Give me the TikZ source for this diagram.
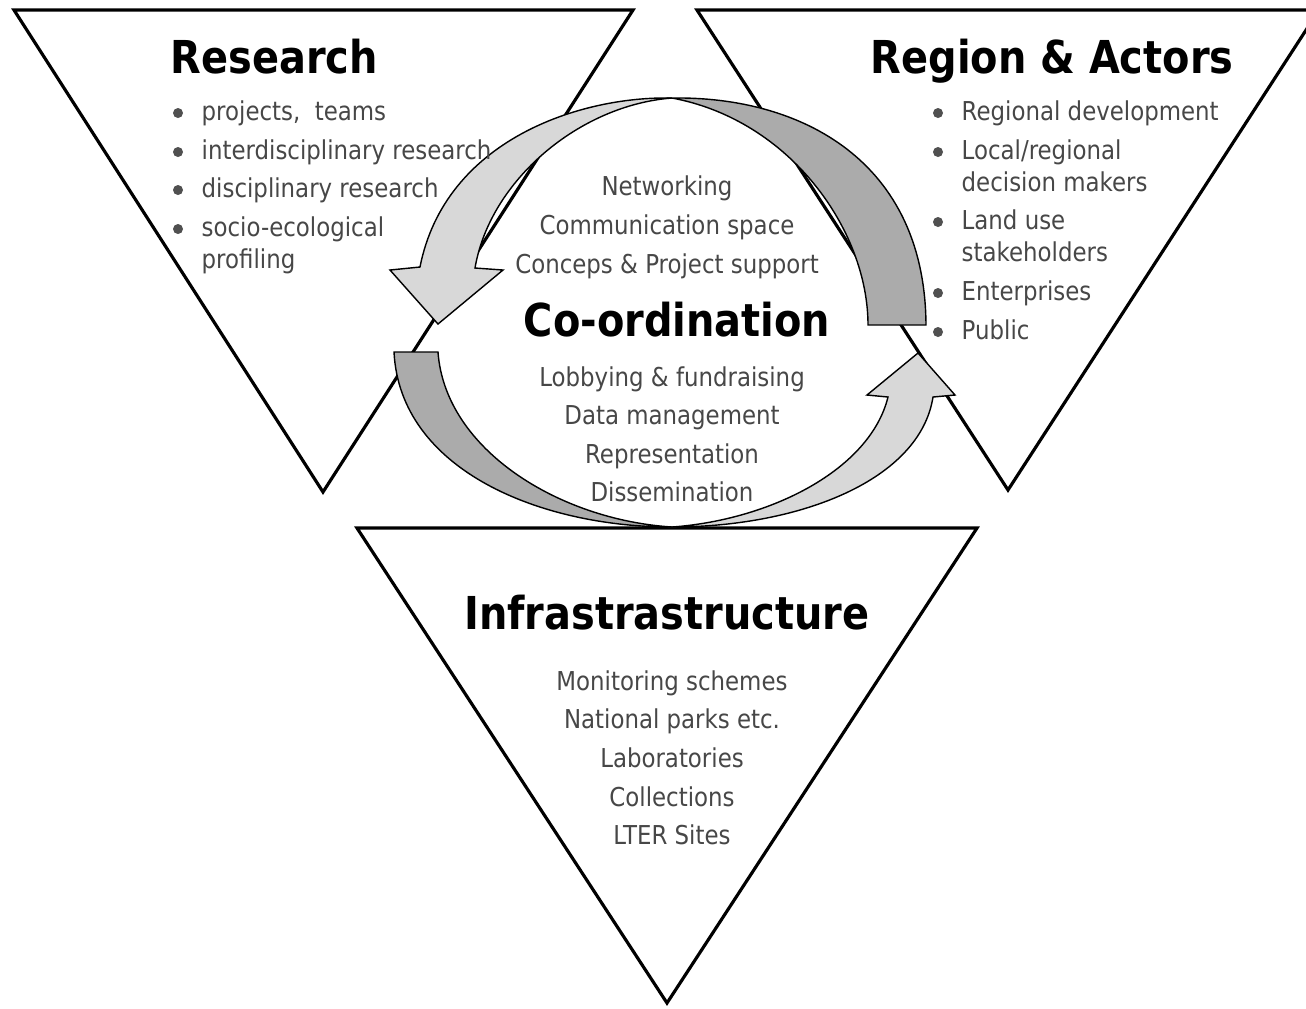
\documentclass[tikz,border=0pt]{standalone}
\usepackage{fontspec}
\setmainfont{DejaVu Sans}[FakeStretch=0.88]
\definecolor{arrowlight}{HTML}{D8D8D8}
\definecolor{arrowdark}{HTML}{ABABAB}
\definecolor{textgrey}{HTML}{474747}
\definecolor{bulletgrey}{HTML}{505050}
\begin{document}
\begin{tikzpicture}[x=0.1mm,y=-0.1mm,
  tri/.style={draw=black, line width=0.9pt, line join=miter},
  lightarrow/.style={fill=arrowlight, draw=black, line width=0.4pt, line join=miter},
  darkarrow/.style={fill=arrowdark, draw=black, line width=0.4pt, line join=miter},
  head/.style={font=\fontsize{12.9}{15}\selectfont\bfseries, text=black, inner sep=0pt},
  body/.style={font=\fontsize{7.4}{9}\selectfont, text=textgrey, inner sep=0pt},
  dot/.style={circle, fill=bulletgrey, inner sep=0pt, minimum size=1.0mm}]
\path[use as bounding box, fill=white] (0,0) rectangle (1306,1008);
\clip (0,0) rectangle (1306,1008);
% triangles
\draw[tri] (14,10) -- (633,10) -- (323,492) -- cycle;
\draw[tri] (697,10) -- (1319,10) -- (1008,490) -- cycle;
\draw[tri] (357,528) -- (977,528) -- (667,1003) -- cycle;
% arrows
\draw[lightarrow] (672,98) .. controls (580,96) and (445,140) .. (420,267)
  -- (390,270) -- (438,324) -- (503,270) -- (475,268)
  .. controls (490,180) and (580,105) .. (672,98) -- cycle;
\draw[darkarrow] (672,98) .. controls (800,96) and (925,160) .. (926,325)
  -- (868,325) .. controls (868,230) and (790,120) .. (672,98) -- cycle;
\draw[darkarrow] (394,352) -- (438,352) .. controls (445,450) and (560,520) .. (672,527)
  .. controls (540,527) and (400,470) .. (394,352) -- cycle;
\draw[lightarrow] (672,527) .. controls (800,527) and (920,480) .. (933,397)
  -- (955,395) -- (918,353) -- (867,395) -- (888,397)
  .. controls (870,470) and (770,520) .. (672,527) -- cycle;
% Research
\node[head, anchor=base west] (hres) at (170,73) {Research};
\node[dot] (b1) at (178,113) {};
\node[dot] (b2) at (178,152) {};
\node[dot] (b3) at (178,190) {};
\node[dot] (b4) at (178,229) {};
\node[body, anchor=base west] (l1) at (201,120) {projects,~ teams};
\node[body, anchor=base west] (l2) at (201,159) {interdisciplinary research};
\node[body, anchor=base west] (l3) at (201,197) {disciplinary research};
\node[body, anchor=base west] (l4) at (201,236) {socio-ecological};
\node[body, anchor=base west] (l5) at (201,268) {profiling};
% Region & Actors
\node[head, anchor=base west] (hreg) at (870,73) {Region \& Actors};
\node[dot] (c1) at (938,113) {};
\node[dot] (c2) at (938,152) {};
\node[dot] (c3) at (938,222) {};
\node[dot] (c4) at (938,293) {};
\node[dot] (c5) at (938,332) {};
\node[body, anchor=base west] (r1) at (961,120) {Regional development};
\node[body, anchor=base west] (r2) at (961,159) {Local/regional};
\node[body, anchor=base west] (r3) at (961,191) {decision makers};
\node[body, anchor=base west] (r4) at (961,229) {Land use};
\node[body, anchor=base west] (r5) at (961,261) {stakeholders};
\node[body, anchor=base west] (r6) at (961,300) {Enterprises};
\node[body, anchor=base west] (r7) at (961,339) {Public};
% Co-ordination
\node[body, anchor=base] (m1) at (667,195) {Networking};
\node[body, anchor=base] (m2) at (667,234) {Communication space};
\node[body, anchor=base] (m3) at (667,273) {Conceps \& Project support};
\node[head, anchor=base] (hco) at (677,336) {Co-ordination};
\node[body, anchor=base] (m4) at (672,386) {Lobbying \& fundraising};
\node[body, anchor=base] (m5) at (672,424) {Data management};
\node[body, anchor=base] (m6) at (672,463) {Representation};
\node[body, anchor=base] (m7) at (672,501) {Dissemination};
% Infrastructure
\node[head, anchor=base] (hinf) at (667,629) {Infrastrastructure};
\node[body, anchor=base] (i1) at (672,690) {Monitoring schemes};
\node[body, anchor=base] (i2) at (672,728) {National parks etc.};
\node[body, anchor=base] (i3) at (672,767) {Laboratories};
\node[body, anchor=base] (i4) at (672,806) {Collections};
\node[body, anchor=base] (i5) at (672,844) {LTER Sites};
\end{tikzpicture}
\end{document}
